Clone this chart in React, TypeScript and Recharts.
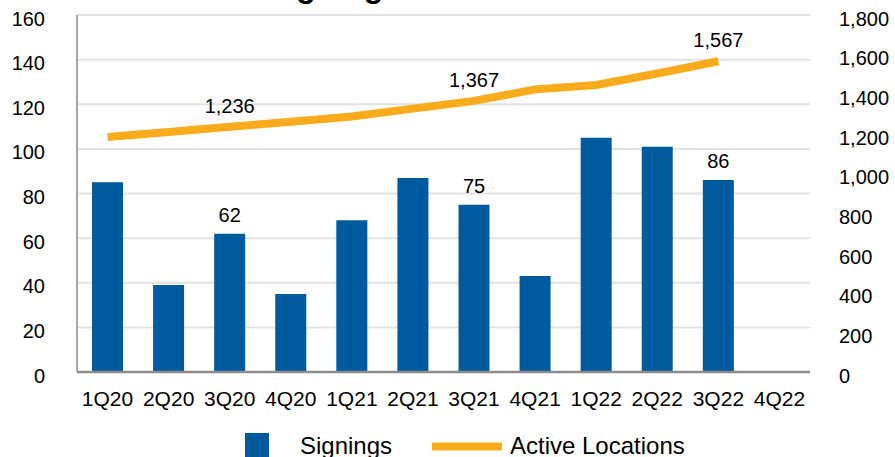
import { Bar, CartesianGrid, ComposedChart, LabelList, Line, XAxis, YAxis } from "recharts"

const quarters = ["1Q20", "2Q20", "3Q20", "4Q20", "1Q21", "2Q21", "3Q21", "4Q21", "1Q22", "2Q22", "3Q22", "4Q22"]
const signings = [85, 39, 62, 35, 68, 87, 75, 43, 105, 101, 86, null]
const activeLocations = [1185, 1210, 1236, 1262, 1288, 1328, 1367, 1425, 1447, 1505, 1567, null]
// only these quarters carry value labels in the original
const labeledQuarters = ["3Q20", "3Q21", "3Q22"]
const leftTicks = [0, 20, 40, 60, 80, 100, 120, 140, 160]
const rightTicks = [0, 200, 400, 600, 800, 1000, 1200, 1400, 1600, 1800]

const data = quarters.map((q, i) => ({ q, signings: signings[i], locations: activeLocations[i] }))

const FONT = "'Liberation Sans', Arial, sans-serif"
const BLUE = "#005A9E"
const ORANGE = "#F9AB1B"

const fmt = (v: number) => v.toLocaleString("en-US")

function LeftTick(props: any) {
  const { x, y, payload } = props
  return (
    <text x={x} y={y + 10.5} textAnchor="end" fontSize={20} fontFamily={FONT} fill="#000">
      {payload.value}
    </text>
  )
}

function RightTick(props: any) {
  const { x, y, payload } = props
  return (
    <text x={x} y={y + 10.5} textAnchor="start" fontSize={20} fontFamily={FONT} fill="#000">
      {fmt(payload.value)}
    </text>
  )
}

function BottomTick(props: any) {
  const { x, y, payload } = props
  return (
    <text x={x} y={y + 34} textAnchor="middle" fontSize={21} fontFamily={FONT} fill="#000">
      {payload.value}
    </text>
  )
}

function BarLabel(props: any) {
  const { x, y, width, value, index } = props
  if (!labeledQuarters.includes(quarters[index])) return null
  return (
    <text x={x + width / 2} y={y - 12} textAnchor="middle" fontSize={20} fontFamily={FONT} fill="#000">
      {value}
    </text>
  )
}

function LineLabel(props: any) {
  const { x, y, value, index } = props
  if (!labeledQuarters.includes(quarters[index])) return null
  return (
    <text x={x} y={y - 14} textAnchor="middle" fontSize={20} fontFamily={FONT} fill="#000">
      {fmt(value)}
    </text>
  )
}

export default function App() {
  return (
    <div style={{ position: "absolute", left: 0, top: 0, width: 895, height: 457, overflow: "hidden", background: "#fff" }}>
      <ComposedChart width={895} height={457} data={data} margin={{ top: 15, right: 0, bottom: 0, left: 0 }}>
        <CartesianGrid vertical={false} stroke="#e2e2e2" strokeWidth={2} yAxisId="left" />
        <XAxis
          dataKey="q"
          interval={0}
          height={85}
          tickSize={0}
          tickMargin={0}
          tick={<BottomTick />}
          axisLine={{ stroke: "#8c8c8c", strokeWidth: 2.5 }}
          tickLine={false}
        />
        <YAxis
          yAxisId="left"
          orientation="left"
          width={77}
          domain={[0, 160]}
          ticks={leftTicks}
          interval={0}
          tickSize={0}
          tickMargin={32}
          tick={<LeftTick />}
          axisLine={{ stroke: "#a6a6a6", strokeWidth: 2 }}
          tickLine={false}
        />
        <YAxis
          yAxisId="right"
          orientation="right"
          width={85}
          domain={[0, 1800]}
          ticks={rightTicks}
          interval={0}
          tickSize={0}
          tickMargin={29}
          tick={<RightTick />}
          axisLine={false}
          tickLine={false}
        />
        <Bar yAxisId="left" dataKey="signings" fill={BLUE} barSize={31} isAnimationActive={false}>
          <LabelList dataKey="signings" content={<BarLabel />} />
        </Bar>
        <Line
          yAxisId="right"
          dataKey="locations"
          type="linear"
          stroke={ORANGE}
          strokeWidth={8}
          dot={false}
          activeDot={false}
          isAnimationActive={false}
        >
          <LabelList dataKey="locations" content={<LineLabel />} />
        </Line>
      </ComposedChart>
      <svg width={895} height={457} style={{ position: "absolute", left: 0, top: 0, pointerEvents: "none" }}>
        <text x={266} y={-3.5} fontSize={32} fontWeight="bold" fontFamily={FONT} fill="#000">
          Signings &amp; Active Locations
        </text>
        <rect x={245} y={433} width={24} height={24} fill={BLUE} />
        <text x={300} y={454} fontSize={24} fontFamily={FONT} fill="#000">
          Signings
        </text>
        <line x1={432} x2={502} y1={446.5} y2={446.5} stroke={ORANGE} strokeWidth={8} />
        <text x={510} y={454} fontSize={24} fontFamily={FONT} fill="#000">
          Active Locations
        </text>
      </svg>
    </div>
  )
}
